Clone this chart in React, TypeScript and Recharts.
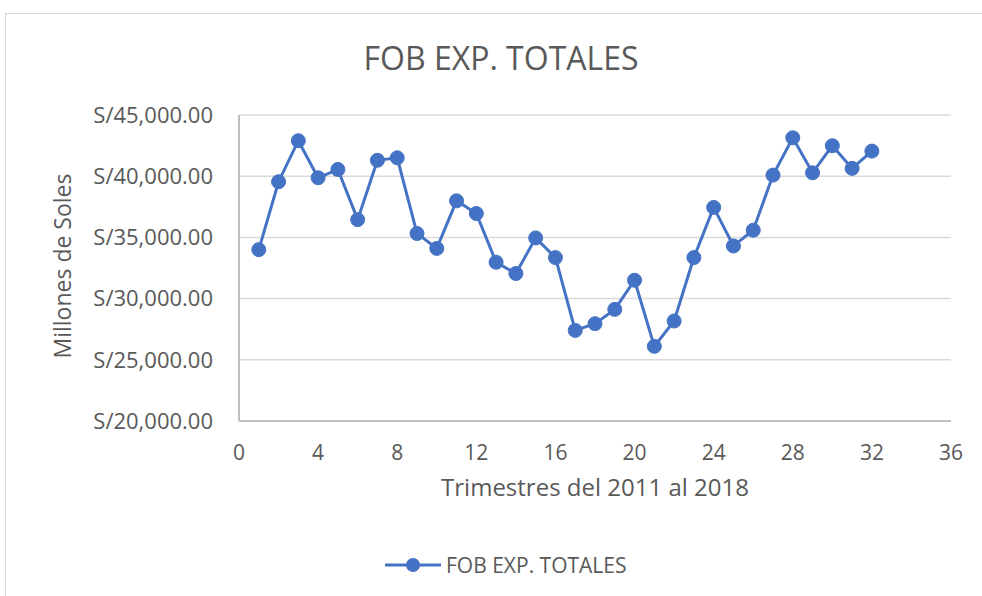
import { LineChart, Line, XAxis, YAxis, CartesianGrid, Legend } from 'recharts';

const quarters = [
  1, 2, 3, 4, 5, 6, 7, 8, 9, 10, 11, 12, 13, 14, 15, 16,
  17, 18, 19, 20, 21, 22, 23, 24, 25, 26, 27, 28, 29, 30, 31, 32,
];

const fobTotales = [
  34000, 39550, 42900, 39870, 40550, 36450, 41300, 41500,
  35320, 34100, 37990, 36950, 32970, 32050, 34960, 33350,
  27400, 27950, 29120, 31500, 26100, 28170, 33350, 37450,
  34300, 35590, 40090, 43140, 40280, 42490, 40640, 42050,
];

const xTicks = [0, 4, 8, 12, 16, 20, 24, 28, 32, 36];
const yTicks = [20000, 25000, 30000, 35000, 40000, 45000];

const SERIES_NAME = 'FOB EXP. TOTALES';
const BLUE = '#4472C4';
const TEXT = '#595959';
const FONT = '"Open Sans", sans-serif';

const chartData = quarters.map((q, i) => ({ q, value: fobTotales[i] }));

const formatSoles = (v: number) =>
  `S/${v.toLocaleString('en-US', { minimumFractionDigits: 2, maximumFractionDigits: 2 })}`;

const LegendContent = () => (
  <div style={{ display: 'flex', alignItems: 'center', fontFamily: FONT, fontSize: 21, color: TEXT }}>
    <svg width={56} height={16} style={{ marginRight: 5 }}>
      <line x1={0} y1={8} x2={56} y2={8} stroke={BLUE} strokeWidth={3} />
      <circle cx={28} cy={8} r={7} fill={BLUE} />
    </svg>
    <span>{SERIES_NAME}</span>
  </div>
);

export default function App() {
  return (
    <div
      style={{
        position: 'absolute',
        left: 0,
        top: 0,
        width: 982,
        height: 596,
        overflow: 'hidden',
        background: '#fff',
        fontFamily: FONT,
      }}
    >
      {/* chart frame, runs off the right and bottom edges */}
      <div
        style={{
          position: 'absolute',
          left: 5,
          top: 13,
          width: 1000,
          height: 620,
          border: '1.5px solid #d9d9d9',
        }}
      />
      <div
        style={{
          position: 'absolute',
          top: 36,
          left: 0,
          width: 1002,
          textAlign: 'center',
          fontSize: 32,
          color: TEXT,
        }}
      >
        {SERIES_NAME}
      </div>
      <div style={{ position: 'absolute', left: 0, top: 0 }}>
        <LineChart
          width={982}
          height={596}
          data={chartData}
          margin={{ top: 115, right: 31, bottom: 75, left: 0 }}
        >
          <CartesianGrid vertical={false} stroke='#d9d9d9' strokeWidth={1.5} />
          <XAxis
            dataKey='q'
            type='number'
            domain={[0, 36]}
            ticks={xTicks}
            height={100}
            tickLine={false}
            tickSize={0}
            tickMargin={24}
            axisLine={{ stroke: '#bfbfbf', strokeWidth: 2 }}
            tick={{ fill: TEXT, fontSize: 21, fontFamily: FONT }}
            label={{
              value: 'Trimestres del 2011 al 2018',
              position: 'insideTop',
              offset: 58,
              fill: TEXT,
              fontSize: 24,
              fontFamily: FONT,
            }}
          />
          <YAxis
            type='number'
            domain={[20000, 45000]}
            ticks={yTicks}
            width={239}
            tickLine={false}
            tickSize={0}
            tickMargin={26}
            axisLine={{ stroke: '#bfbfbf', strokeWidth: 2 }}
            tickFormatter={formatSoles}
            tick={{ fill: TEXT, fontSize: 22, fontFamily: FONT }}
            label={{
              value: 'Millones de Soles',
              angle: -90,
              position: 'center',
              dx: -57,
              dy: -2,
              fill: TEXT,
              fontSize: 23,
              fontFamily: FONT,
            }}
          />
          <Legend
            layout='vertical'
            align='center'
            verticalAlign='middle'
            content={<LegendContent />}
            wrapperStyle={{ top: 551, left: 385, width: 320, height: 28 }}
          />
          <Line
            type='linear'
            dataKey='value'
            name={SERIES_NAME}
            stroke={BLUE}
            strokeWidth={3}
            dot={{ r: 7, fill: BLUE, stroke: BLUE, strokeWidth: 1 }}
            activeDot={false}
            isAnimationActive={false}
          />
        </LineChart>
      </div>
    </div>
  );
}
